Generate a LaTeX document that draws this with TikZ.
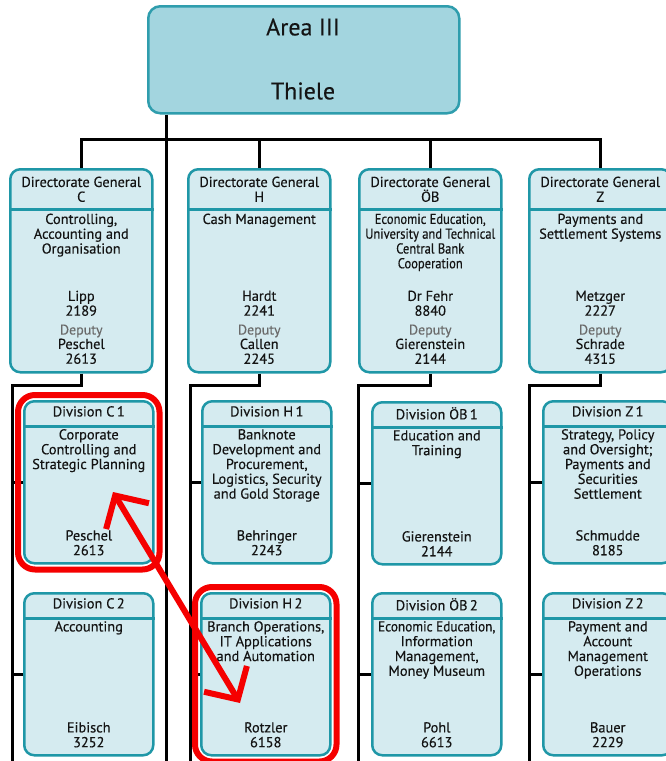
\documentclass[tikz,border=0pt]{standalone}
\usepackage{fontspec}
\setmainfont{PT Sans}[FakeBold=0.3]
\newfontfamily\condfont{PT Sans}[FakeStretch=0.87,FakeBold=0.3]
\newfontfamily\semicondfont{PT Sans}[FakeStretch=0.92,FakeBold=0.3]
\usetikzlibrary{arrows.meta,fit}
\definecolor{topfill}{HTML}{A3D5DF}
\definecolor{topdraw}{HTML}{2F9DAD}
\definecolor{boxfill}{HTML}{D5EBF0}
\definecolor{boxdraw}{HTML}{1F97A7}
\definecolor{txtc}{HTML}{141414}
\definecolor{depc}{HTML}{6A6A6A}
\definecolor{hlred}{HTML}{F50000}
\tikzset{
  conn/.style={line width=3pt, black},
  topbox/.style={draw=topdraw, fill=topfill, line width=2.5pt, rounded corners=12pt,
    minimum width=311pt, minimum height=107pt, inner sep=0pt, anchor=north west},
  dgbox/.style={draw=boxdraw, fill=boxfill, line width=2.5pt, rounded corners=10pt,
    minimum width=142pt, minimum height=203pt, inner sep=0pt, anchor=north west},
  divbox/.style={draw=boxdraw, fill=boxfill, line width=2.5pt, rounded corners=10pt,
    minimum width=129pt, minimum height=162pt, inner sep=0pt, anchor=north west},
  sepline/.style={draw=boxdraw, line width=3pt},
  txt/.style={font=\fontsize{14.4}{14.8}\selectfont, align=center, text=txtc, inner sep=0pt, anchor=north},
  deptxt/.style={font=\fontsize{14}{14}\selectfont, text=depc, inner sep=0pt},
  bigtxt/.style={font=\fontsize{24}{26}\selectfont, text=txtc, inner sep=0pt},
  hlbox/.style={draw=hlred, line width=6pt, rounded corners=17pt, inner sep=5pt},
  hlarrow/.style={draw=hlred, line width=6pt,
    {Straight Barb[length=24pt,width=50pt,line width=6pt]}-{Straight Barb[length=24pt,width=50pt,line width=6pt]}}
}
\newcommand\DGbox[8]{%
  \node[dgbox] (#1) at (#2,168) {};
  \draw[sepline] ([yshift=-41pt]#1.north west) -- ([yshift=-41pt]#1.north east);
  \node[txt] (#1-h) at ([yshift=-8.5pt]#1.north) {Directorate General\\#3};
  \node[txt] (#1-b) at ([yshift=-45.5pt]#1.north) {#4};
  \node[txt] (#1-n) at ([yshift=-122.5pt]#1.north) {#5\\#6};
  \node[deptxt] (#1-d) at ([yshift=-163pt]#1.north) {Deputy};
  \node[txt] (#1-m) at ([yshift=-170.5pt]#1.north) {#7\\#8};
}
\newcommand\DIVbox[7]{%
  \node[divbox] (#1) at (#2,#3) {};
  \draw[sepline] ([yshift=-26pt]#1.north west) -- ([yshift=-26pt]#1.north east);
  \node[txt] (#1-h) at ([yshift=-6pt]#1.north) {#4};
  \node[txt] (#1-b) at ([yshift=-29pt]#1.north) {#5};
  \node[txt] (#1-n) at ([yshift=-130pt]#1.north) {#6\\#7};
}
\begin{document}
\begin{tikzpicture}[x=1pt,y=-1pt]
\useasboundingbox (0,0) rectangle (666,761);
\fill[white] (0,0) rectangle (666,761);
% coordinates for connectors
\coordinate (bar) at (0,139);
\coordinate (bend) at (0,385);
\coordinate (trunk) at (166,761);
\coordinate (cC) at (12,761);
\coordinate (cH) at (190,761);
\coordinate (cO) at (358,761);
\coordinate (cZ) at (529,761);
% top box
\node[topbox] (top) at (147,5) {};
\node[bigtxt] (topa) at (303,27) {Area III};
\node[bigtxt] (topb) at (303,91) {Thiele};
% directorates general
\DGbox{dgC}{9}{C}{Controlling,\\Accounting and\\Organisation}{Lipp}{2189}{Peschel}{2613}
\DGbox{dgH}{187}{H}{Cash Management}{Hardt}{2241}{Callen}{2245}
\DGbox{dgO}{358}{ÖB}{\condfont Economic Education,\\\condfont University and Technical\\\condfont Central Bank\\\condfont Cooperation}{Dr Fehr}{8840}{Gierenstein}{2144}
\DGbox{dgZ}{528}{Z}{Payments and\\Settlement Systems}{Metzger}{2227}{Schrade}{4315}
% divisions
\DIVbox{c1}{23}{400}{Division C\,1}{Corporate\\Controlling and\\Strategic Planning}{Peschel}{2613}
\DIVbox{h1}{201}{400}{Division H\,1}{Banknote\\Development and\\Procurement,\\Logistics, Security\\and Gold Storage}{Behringer}{2243}
\DIVbox{o1}{371}{401}{Division ÖB\,1}{Education and\\Training}{Gierenstein}{2144}
\DIVbox{z1}{542}{400}{Division Z\,1}{Strategy, Policy\\and Oversight;\\Payments and\\Securities\\Settlement}{Schmudde}{8185}
\DIVbox{c2}{23}{592}{Division C\,2}{Accounting}{Eibisch}{3252}
\DIVbox{h2}{200}{592}{Division H\,2}{Branch Operations,\\IT Applications\\and Automation}{Rotzler}{6158}
\DIVbox{o2}{371}{592}{Division ÖB\,2}{\semicondfont Economic Education,\\Information\\Management,\\Money Museum}{Pohl}{6613}
\DIVbox{z2}{542}{592}{Division Z\,2}{Payment and\\Account\\Management\\Operations}{Bauer}{2229}
% connectors
\draw[conn] (trunk |- top.south) -- (trunk);
\draw[conn] (dgC.north) -- (dgC.north |- bar) -- (dgZ.north |- bar) -- (dgZ.north);
\draw[conn] (dgH.north) -- (dgH.north |- bar);
\draw[conn] (dgO.north) -- (dgO.north |- bar);
\draw[conn] (dgC.south) |- (cC |- bend) -- (cC);
\draw[conn] (dgH.south) |- (cH |- bend) -- (cH);
\draw[conn] (dgO.south) |- (cO |- bend) -- (cO);
\draw[conn] (dgZ.south) |- (cZ |- bend) -- (cZ);
\draw[conn] (c1.west) -- (c1.west -| cC);
\draw[conn] (c2.west) -- (c2.west -| cC);
\draw[conn] (h1.west) -- (h1.west -| cH);
\draw[conn] (h2.west) -- (h2.west -| cH);
\draw[conn] (o1.west) -- (o1.west -| cO);
\draw[conn] (o2.west) -- (o2.west -| cO);
\draw[conn] (z1.west) -- (z1.west -| cZ);
\draw[conn] (z2.west) -- (z2.west -| cZ);
% highlights
\node[hlbox, fit=(c1)] (hl1) {};
\node[hlbox, fit=(h2)] (hl2) {};
\coordinate (arrA) at (113,492);
\coordinate (arrB) at (240,703);
\draw[hlarrow] (arrA) -- (arrB);
\end{tikzpicture}
\end{document}
